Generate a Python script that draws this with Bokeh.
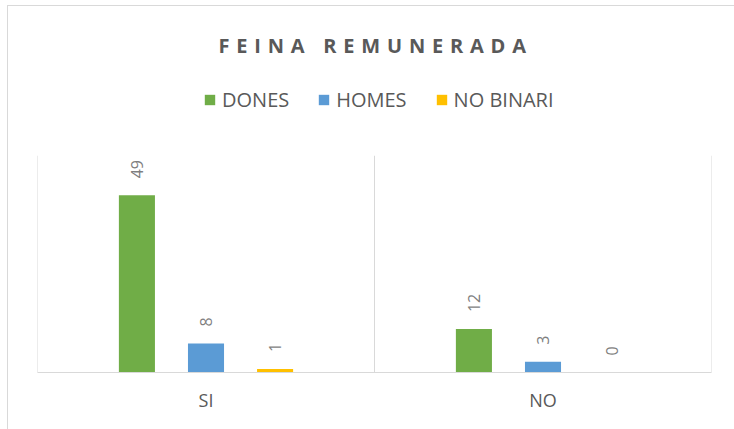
import math
from bokeh.plotting import figure
from bokeh.layouts import column
from bokeh.models import (ColumnDataSource, FactorRange, Range1d, Legend, LegendItem,
                          LabelSet, Label, Span)
from bokeh.core.properties import value
from bokeh.transform import dodge
from bokeh.embed import file_html
from bokeh.resources import INLINE

# ---- data ----
categories = ["SI", "NO"]
series_names = ["DONES", "HOMES", "NO BINARI"]
dones = [49, 12]
homes = [8, 3]
no_binari = [1, 0]
title_text = "FEINA REMUNERADA"

colors = ["#70AD47", "#5B9BD5", "#FFC000"]
offsets = [-0.205, 0.0, 0.205]
values = [dones, homes, no_binari]

FONT = "Open Sans"
W = 726
LEFT, RIGHT = 29, 23   # plot-area borders (all strips are frame-aligned in the column)


def strip(h, yr):
    fig = figure(x_range=Range1d(LEFT, W - RIGHT), y_range=yr, width=W, height=h,
                 output_backend="svg", toolbar_location=None, min_border=0,
                 min_border_left=LEFT, min_border_right=RIGHT,
                 x_axis_location=None, y_axis_location=None)
    fig.outline_line_color = None
    fig.grid.visible = False
    return fig


# ---- title strip ----
tfig = strip(70, Range1d(0, 70))
tfig.styles = {"letter-spacing": "6.8px"}
tfig.add_layout(Label(x=210, y=31, text=title_text, text_align="left",
                      text_baseline="middle", text_font=FONT,
                      text_font_size="20px", text_font_style="bold",
                      text_color="#595959"))

# ---- legend strip ----
lfig = strip(79, Range1d(0, 1))
items = []
for name, col in zip(series_names, colors):
    # legend swatch renderer (zero-height bar, draws nothing itself)
    r = lfig.vbar(x=[100], top=[0], width=1, fill_color=col, line_color=None)
    items.append(LegendItem(label=name, renderers=[r]))
legend = Legend(items=items, orientation="horizontal", location=(166, 42),
                border_line_color=None, background_fill_alpha=0,
                label_text_font=FONT, label_text_font_size="20px",
                label_text_color="#595959", glyph_width=13, glyph_height=13,
                label_height=22, label_standoff=6, spacing=28, padding=0, margin=0)
lfig.add_layout(legend, "center")

# ---- main chart ----
p = figure(x_range=FactorRange(factors=categories, range_padding=0),
           y_range=Range1d(0, 60),
           width=W, height=274, output_backend="svg", toolbar_location=None,
           y_axis_location=None,
           min_border_left=LEFT, min_border_right=RIGHT, min_border_top=0,
           min_border_bottom=57)
p.outline_line_color = None
p.grid.visible = False

ax = p.xaxis[0]
ax.axis_line_color = "#d9d9d9"
ax.axis_line_width = 1
ax.major_tick_line_color = None
ax.minor_tick_line_color = None
ax.major_label_text_font = FONT
ax.major_label_text_font_size = "18px"
ax.major_label_text_color = "#595959"
ax.major_label_standoff = 9

for loc in [0, 1, 2]:
    p.add_layout(Span(location=loc, dimension="height", line_color="#d9d9d9", line_width=1))

for name, vals, col, off in zip(series_names, values, colors, offsets):
    src = ColumnDataSource(dict(cat=categories, val=vals, lab=[str(v) for v in vals]))
    p.vbar(x=dodge("cat", off, range=p.x_range), top="val", width=0.107,
           source=src, fill_color=col, line_color=None)
    p.add_layout(LabelSet(x=dodge("cat", off, range=p.x_range), y="val", text="lab",
                          source=src, angle=math.pi / 2, text_align="left",
                          text_baseline="middle", y_offset=17, text_font=value(FONT),
                          text_font_size="16px", text_color="#7f7f7f"))

page = column(tfig, lfig, p, spacing=0)
page.styles = {"margin-left": "7px", "margin-top": "5px",
               "border-left": "1px solid #d9d9d9", "border-top": "1px solid #d9d9d9"}

open("out.html", "w").write(file_html(page, INLINE))
